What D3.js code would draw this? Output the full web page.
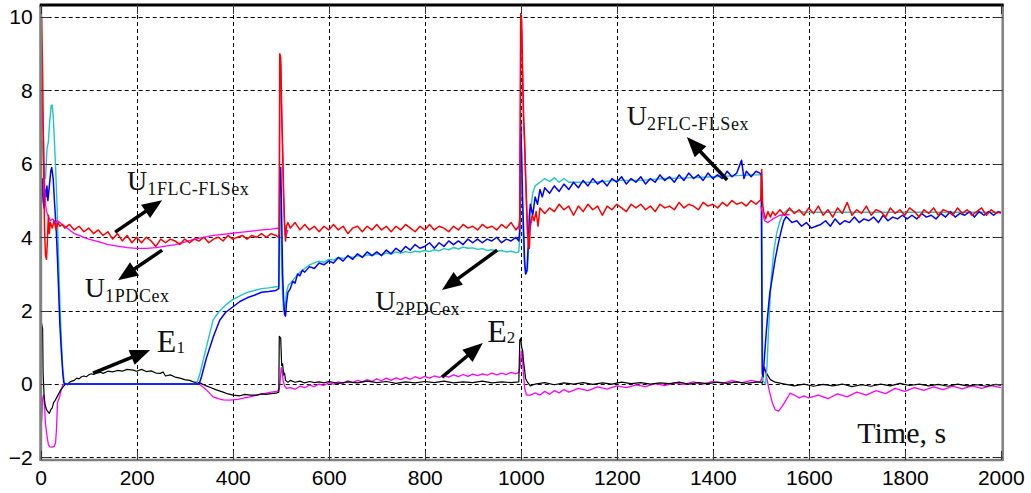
<!doctype html>
<html>
<head>
<meta charset="utf-8">
<style>
  body { margin: 0; background: #fff; }
</style>
</head>
<body>
<svg width="1031" height="493"></svg>
<script src="https://d3js.org/d3.v7.min.js"></script>
<script>
  // ---- data: [time s, value] ----
  const xTicks = [0, 200, 400, 600, 800, 1000, 1200, 1400, 1600, 1800, 2000];
  const yTicks = [-2, 0, 2, 4, 6, 8, 10];

  const u1FlcFls = [ // red
    [0,10.0],[2,10.0],[4,8.5],[6,6.0],[8,4.2],[10,3.5],[12,3.4],[14,3.9],[16,4.6],[18,4.1],[20,4.4],[24,4.25],[28,4.45],[32,4.2],[36,4.4],[40,4.3],[45,4.35],[50,4.25],
    [60,4.35],[70,4.2],[80,4.3],[90,4.15],[100,4.25],[110,4.1],[120,4.2],[130,4.05],[140,4.15],[150,3.95],[160,4.1],[170,3.9],[180,4.05],[190,3.85],[200,4.0],
    [210,3.85],[220,4.0],[230,3.9],[240,3.75],[250,3.95],[260,3.85],[270,3.95],[280,3.9],[290,3.8],[300,3.95],[310,3.85],[320,3.95],[330,3.9],[340,4.0],[350,3.85],
    [360,3.95],[370,4.0],[380,3.9],[390,4.05],[400,3.95],[410,4.0],[420,4.05],[430,3.95],[440,4.05],[450,4.0],[460,4.1],[470,4.0],[480,4.1],[490,4.05],[495,4.0],
    [497,4.1],[498,9.0],[500,8.9],[502,7.5],[504,6.4],[506,5.2],[508,4.4],[510,3.9],[512,4.3],[515,4.4],[520,4.25],[530,4.4],[540,4.2],[550,4.35],[560,4.2],
    [570,4.3],[580,4.15],[590,4.3],[600,4.2],[610,4.35],[620,4.2],[630,4.3],[640,4.1],[650,4.25],[660,4.3],[670,4.15],[680,4.3],[690,4.2],[700,4.35],[710,4.2],
    [720,4.3],[730,4.15],[740,4.3],[750,4.2],[760,4.35],[770,4.25],[780,4.15],[790,4.3],[800,4.2],[810,4.35],[820,4.2],[830,4.3],[840,4.25],[850,4.15],[860,4.3],
    [870,4.2],[880,4.35],[890,4.25],[900,4.3],[910,4.2],[920,4.35],[930,4.25],[940,4.3],[950,4.2],[960,4.35],[970,4.25],[980,4.4],[990,4.2],[996,4.3],[998,4.5],
    [1000,10.1],[1002,9.9],[1004,8.5],[1006,7.3],[1008,6.7],[1010,5.8],[1012,5.0],[1014,4.3],[1016,3.8],[1018,3.7],[1020,4.4],[1024,4.6],[1028,4.45],[1032,4.7],
    [1036,4.3],[1040,4.8],[1050,4.65],[1060,4.8],[1070,4.7],[1080,4.9],[1090,4.75],[1100,4.85],[1110,4.6],[1120,4.85],[1130,4.7],[1140,4.9],[1150,4.75],[1160,4.85],
    [1170,4.6],[1180,4.85],[1190,4.75],[1200,4.9],[1210,4.8],[1220,4.7],[1230,4.9],[1240,4.8],[1250,4.9],[1260,4.75],[1270,4.85],[1280,4.7],[1290,4.9],[1300,4.8],
    [1310,4.85],[1320,4.75],[1330,4.95],[1340,4.8],[1350,4.9],[1360,4.85],[1370,4.75],[1380,4.95],[1390,4.85],[1400,4.9],[1410,4.8],[1420,4.95],[1430,4.85],
    [1440,5.0],[1450,4.9],[1460,4.95],[1470,4.85],[1480,5.0],[1490,4.9],[1498,5.0],[1500,5.0],[1502,5.85],[1504,4.9],[1506,4.7],[1510,4.5],[1515,4.7],[1520,4.55],
    [1525,4.7],[1530,4.6],[1540,4.75],[1550,4.6],[1560,4.8],[1570,4.65],[1580,4.75],[1590,4.6],[1600,4.8],[1610,4.65],[1620,4.85],[1630,4.6],[1640,4.75],[1650,4.55],
    [1660,4.8],[1670,4.65],[1680,4.95],[1690,4.6],[1700,4.75],[1710,4.65],[1720,4.85],[1730,4.6],[1740,4.75],[1750,4.7],[1760,4.55],[1770,4.8],[1780,4.65],
    [1790,4.75],[1800,4.6],[1810,4.8],[1820,4.7],[1830,4.55],[1840,4.75],[1850,4.65],[1860,4.8],[1870,4.6],[1880,4.75],[1890,4.7],[1900,4.6],[1910,4.8],[1920,4.65],
    [1930,4.75],[1940,4.6],[1950,4.7],[1960,4.8],[1970,4.6],[1980,4.75],[1990,4.65],[2000,4.7]
  ];

  const u1Pdc = [ // magenta, upper (hidden under red where null)
    [0,9.6],[2,9.0],[3,8.3],[4,7.1],[6,6.7],[8,5.5],[10,4.9],[12,4.7],[15,4.6],[20,4.45],[25,4.5],[30,4.4],[35,4.45],[40,4.4],[50,4.3],[60,4.2],[70,4.1],
    [80,4.05],[90,4.0],[100,3.95],[120,3.88],[140,3.8],[160,3.76],[180,3.72],[200,3.7],[220,3.7],[240,3.72],[260,3.76],[280,3.8],[300,3.87],[320,3.95],
    [340,4.0],[360,4.05],[380,4.08],[400,4.11],[420,4.14],[440,4.17],[460,4.2],[480,4.22],[495,4.25],[497,4.2],[498,8.8],[500,8.7],[502,7.3],[504,6.3],
    [506,5.1],[508,4.3],[510,4.0],[515,4.2],[520,null],
    [996,4.2],[998,4.4],[1000,9.8],[1002,9.6],[1004,8.3],[1006,7.1],[1008,6.5],[1010,5.6],[1012,4.8],[1014,4.1],[1016,3.9],[1020,4.3],[1024,4.5],[1030,null],
    [1500,4.85],[1503,4.7],[1508,4.45],[1515,4.4],[1525,4.5],[1540,4.6],[1560,4.62],[1565,null]
  ];

  const u2FlcFls = [ // blue
    [0,6.1],[1,5.0],[3,5.6],[5,5.0],[7,4.8],[9,5.3],[11,5.1],[13,5.4],[15,5.0],[18,5.4],[21,5.8],[23,5.9],[26,5.6],[29,4.9],[32,4.3],[35,3.4],[38,2.3],
    [40,1.6],[43,0.9],[46,0.3],[48,0.05],[50,0],[330,0],[335,0.2],[345,0.7],[360,1.3],[373,1.74],[385,1.95],[400,2.1],[415,2.25],[430,2.35],[445,2.42],
    [460,2.5],[475,2.52],[490,2.55],[496,2.6],[498,5.8],[500,5.9],[502,4.5],[504,3.0],[506,2.3],[508,1.9],[510,1.85],[512,2.2],[515,2.5],[520,2.6],[525,2.8],
    [530,2.75],[535,3.0],[540,2.95],[545,3.1],[550,3.05],[560,3.2],[570,3.15],[580,3.3],[590,3.25],[600,3.35],[610,3.3],[620,3.45],[630,3.35],[640,3.5],
    [650,3.4],[660,3.55],[670,3.45],[680,3.6],[690,3.5],[700,3.6],[710,3.5],[720,3.65],[730,3.55],[740,3.7],[750,3.6],[760,3.75],[770,3.65],[780,3.8],
    [790,3.7],[800,3.75],[810,3.85],[820,3.7],[830,3.85],[840,3.75],[850,3.9],[860,3.8],[870,3.9],[880,3.8],[890,3.95],[900,3.85],[910,3.95],[920,3.85],
    [930,3.95],[940,3.9],[950,4.0],[960,3.85],[970,3.95],[980,3.9],[990,4.0],[996,3.9],[998,4.2],[1000,7.1],[1002,6.2],[1004,5.0],[1006,4.2],[1008,3.4],
    [1010,3.0],[1013,3.1],[1016,3.9],[1018,4.6],[1020,4.9],[1025,4.6],[1030,5.1],[1035,4.9],[1040,5.3],[1045,5.1],[1050,5.35],[1060,5.2],[1070,5.4],[1080,5.25],
    [1090,5.45],[1100,5.3],[1110,5.5],[1120,5.35],[1130,5.55],[1140,5.4],[1150,5.6],[1160,5.45],[1170,5.55],[1180,5.4],[1190,5.6],[1200,5.5],[1210,5.65],
    [1220,5.45],[1230,5.6],[1240,5.5],[1250,5.65],[1260,5.45],[1270,5.6],[1280,5.5],[1290,5.7],[1300,5.55],[1310,5.65],[1320,5.5],[1330,5.7],[1340,5.55],
    [1350,5.75],[1360,5.6],[1370,5.7],[1380,5.55],[1390,5.75],[1400,5.6],[1410,5.7],[1420,5.6],[1430,5.8],[1440,5.65],[1450,5.75],[1460,6.1],[1465,5.6],
    [1470,5.8],[1480,5.65],[1490,5.8],[1498,5.75],[1501,5.7],[1503,0.3],[1505,0.2],[1508,0.8],[1512,1.5],[1516,2.1],[1519,2.5],[1524,2.9],[1530,3.4],[1536,3.8],
    [1543,4.2],[1548,4.45],[1553,4.56],[1558,4.5],[1565,4.4],[1575,4.45],[1585,4.3],[1595,4.4],[1605,4.25],[1615,4.3],[1625,4.35],[1635,4.45],[1645,4.3],
    [1655,4.5],[1665,4.35],[1675,4.45],[1685,4.4],[1695,4.55],[1705,4.4],[1715,4.5],[1725,4.45],[1735,4.55],[1745,4.4],[1755,4.6],[1765,4.45],[1775,4.55],
    [1785,4.5],[1795,4.6],[1805,4.5],[1815,4.6],[1825,4.5],[1835,4.65],[1845,4.55],[1855,4.6],[1865,4.5],[1875,4.65],[1885,4.55],[1895,4.7],[1905,4.55],
    [1915,4.65],[1925,4.6],[1935,4.7],[1945,4.55],[1955,4.7],[1965,4.6],[1975,4.7],[1985,4.6],[1995,4.7],[2000,4.65]
  ];

  const u2Pdc = [ // cyan
    [0,7.4],[2,6.8],[4,6.5],[6,6.0],[8,5.6],[10,5.6],[13,6.4],[16,6.6],[19,7.2],[22,7.6],[24,7.6],[26,7.3],[28,6.8],[31,5.9],[34,4.9],[37,3.5],[40,2.2],
    [43,1.2],[46,0.4],[49,0.05],[52,0],[325,0],[332,0.3],[345,1.0],[359,1.74],[370,1.95],[385,2.15],[400,2.3],[415,2.4],[430,2.5],[445,2.55],[460,2.6],
    [475,2.62],[490,2.65],[496,2.65],[498,5.0],[500,4.5],[502,3.2],[504,2.4],[506,2.0],[509,2.1],[512,2.5],[516,2.7],[520,2.75],[530,2.9],[540,3.05],
    [550,3.15],[560,3.25],[570,3.3],[580,3.35],[590,3.32],[600,3.4],[610,3.38],[620,3.45],[630,3.42],[640,3.48],[650,3.45],[660,3.5],[670,3.47],[680,3.52],
    [690,3.5],[700,3.55],[710,3.52],[720,3.57],[730,3.54],[740,3.6],[750,3.56],[760,3.61],[770,3.58],[780,3.62],[790,3.6],[800,3.64],[810,3.61],[820,3.66],
    [830,3.63],[840,3.69],[850,3.66],[860,3.72],[870,3.68],[880,3.73],[890,3.7],[900,3.71],[910,3.67],[920,3.69],[930,3.64],[940,3.66],[950,3.62],[960,3.64],
    [970,3.6],[980,3.62],[990,3.58],[996,3.6],[998,4.0],[1000,6.0],[1002,5.4],[1004,4.5],[1006,3.8],[1008,3.2],[1011,3.0],[1014,3.1],[1017,3.9],[1020,4.7],
    [1025,5.2],[1030,5.4],[1040,5.5],[1050,5.6],[1060,5.52],[1070,5.62],[1080,5.5],[1090,5.6],[1100,5.5],[1150,5.5],[1200,5.55],[1250,5.55],[1300,5.6],
    [1350,5.62],[1400,5.65],[1450,5.68],[1480,5.7],[1502,5.7],[1504,0.1],[1510,0],[1513,0.5],[1516,1.4],[1519,2.2],[1522,2.9],[1527,3.6],[1533,4.1],
    [1540,4.45],[1547,4.65],[1556,4.75],[1570,4.7],[1600,4.68],[1700,4.68],[1800,4.68],[1900,4.68],[2000,4.68]
  ];

  const e1 = [ // black
    [0,1.6],[2,1.65],[4,1.5],[5,0.3],[7,-0.3],[9,-0.55],[12,-0.7],[15,-0.75],[18,-0.8],[21,-0.7],[24,-0.65],[27,-0.5],[30,-0.45],[34,-0.35],[38,-0.25],
    [42,-0.15],[47,-0.07],[52,0.0],[56,-0.02],[60,0.05],[65,0.08],[70,0.1],[75,0.16],[80,0.14],[85,0.2],[90,0.22],[95,0.2],[100,0.25],[105,0.28],[110,0.26],
    [117,0.3],[125,0.32],[130,0.29],[140,0.35],[150,0.33],[160,0.37],[170,0.35],[180,0.4],[193,0.38],[200,0.35],[210,0.4],[220,0.34],[230,0.36],[240,0.3],
    [249,0.29],[255,0.33],[260,0.22],[270,0.25],[280,0.19],[290,0.16],[300,0.12],[310,0.1],[320,0.05],[332,0.03],[345,-0.05],[355,-0.1],[366,-0.16],
    [380,-0.22],[390,-0.27],[401,-0.3],[415,-0.32],[425,-0.28],[436,-0.3],[450,-0.3],[460,-0.27],[470,-0.28],[480,-0.26],[490,-0.25],[496,-0.22],[497,1.3],
    [500,1.25],[502,0.5],[504,0.55],[506,0.25],[508,0.3],[510,0.1],[515,0.05],[520,0.1],[530,0.05],[540,0.08],[550,0.03],[560,0.07],[570,0.04],[580,0.06],
    [590,0.03],[600,0.07],[620,0.02],[640,0.06],[660,0.03],[680,0.08],[700,0.04],[720,0.07],[740,0.02],[760,0.06],[780,0.03],[800,0.07],[820,0.04],[840,0.08],
    [860,0.03],[880,0.06],[900,0.04],[920,0.08],[940,0.03],[960,0.06],[980,0.04],[996,0.06],[998,1.2],[1000,1.25],[1002,1.0],[1004,0.9],[1006,0.6],[1008,0.4],
    [1010,0.15],[1014,0.05],[1020,-0.05],[1030,0.0],[1050,0.04],[1070,-0.02],[1090,0.03],[1110,0.0],[1130,0.04],[1150,-0.01],[1170,0.03],[1190,0.0],[1210,0.05],
    [1230,0.01],[1250,0.04],[1270,0.0],[1290,0.03],[1310,0.01],[1330,0.05],[1350,0.0],[1370,0.04],[1390,0.01],[1410,0.05],[1430,0.02],[1450,0.06],[1470,0.02],
    [1490,0.05],[1500,0.05],[1503,0.02],[1506,0.45],[1510,0.35],[1514,0.25],[1520,0.12],[1530,0.05],[1550,0.0],[1570,-0.05],[1590,0.0],[1610,-0.06],[1630,-0.01],
    [1650,-0.05],[1670,0.0],[1690,-0.07],[1710,-0.02],[1730,-0.06],[1750,0.0],[1770,-0.05],[1790,0.02],[1810,-0.04],[1830,0.0],[1850,-0.05],[1870,-0.01],
    [1890,-0.06],[1910,0.0],[1930,-0.05],[1950,-0.02],[1970,-0.06],[1990,-0.01],[2000,-0.04]
  ];

  const e2 = [ // magenta, lower
    [0,-0.5],[2,-1.0],[4,-0.4],[6,-0.3],[8,-0.6],[10,-1.1],[13,-1.4],[16,-1.65],[19,-1.71],[24,-1.72],[28,-1.7],[31,-1.6],[33,-1.2],[35,-0.5],[38,-0.4],
    [42,-0.2],[47,0],[330,0],[340,-0.1],[350,-0.22],[359,-0.35],[370,-0.4],[380,-0.43],[394,-0.44],[410,-0.42],[425,-0.38],[436,-0.35],[450,-0.3],[465,-0.26],
    [480,-0.22],[492,-0.2],[497,-0.15],[499,0.1],[501,0.45],[503,0.35],[505,0.1],[508,-0.05],[512,-0.12],[520,-0.1],[530,-0.14],[540,-0.06],[550,-0.1],
    [560,-0.03],[570,-0.07],[580,0.0],[590,-0.04],[600,0.04],[610,0.0],[620,0.06],[630,0.02],[640,0.09],[650,0.04],[660,0.1],[670,0.06],[680,0.12],[690,0.07],
    [700,0.14],[710,0.09],[720,0.16],[730,0.1],[740,0.17],[750,0.12],[760,0.18],[770,0.13],[780,0.2],[790,0.15],[800,0.21],[810,0.16],[820,0.22],[830,0.18],
    [840,0.23],[850,0.19],[860,0.25],[870,0.2],[880,0.26],[890,0.21],[900,0.27],[910,0.23],[920,0.28],[930,0.24],[940,0.3],[950,0.25],[960,0.3],[970,0.26],
    [980,0.32],[990,0.28],[996,0.32],[999,0.5],[1001,0.9],[1003,0.8],[1005,0.4],[1008,-0.1],[1012,-0.3],[1020,-0.3],[1030,-0.24],[1040,-0.3],[1050,-0.2],
    [1060,-0.28],[1070,-0.18],[1080,-0.24],[1090,-0.15],[1100,-0.22],[1120,-0.12],[1140,-0.18],[1160,-0.08],[1180,-0.14],[1200,-0.05],[1220,-0.1],[1240,-0.02],
    [1260,-0.07],[1280,0.01],[1300,-0.04],[1320,0.03],[1340,-0.01],[1360,0.06],[1380,0.0],[1400,0.07],[1420,0.02],[1440,0.09],[1460,0.03],[1480,0.1],[1496,0.05],
    [1500,0.08],[1503,0.2],[1508,0.47],[1512,0.2],[1518,-0.2],[1524,-0.5],[1530,-0.7],[1537,-0.74],[1545,-0.6],[1552,-0.45],[1561,-0.25],[1570,-0.3],
    [1580,-0.38],[1590,-0.32],[1600,-0.38],[1620,-0.3],[1640,-0.4],[1660,-0.27],[1680,-0.35],[1700,-0.22],[1720,-0.3],[1740,-0.18],[1760,-0.26],[1780,-0.12],
    [1800,-0.2],[1820,-0.1],[1840,-0.17],[1860,-0.08],[1880,-0.15],[1900,-0.06],[1920,-0.13],[1940,-0.05],[1960,-0.12],[1980,-0.04],[2000,-0.1]
  ];

  // annotations: label text (main, subscript), label anchor, arrow tail, arrow head (data units)
  const labelNames = [["U", "1FLC-FLSex"], ["U", "1PDCex"], ["U", "2PDCex"], ["U", "2FLC-FLSex"], ["E", "1"], ["E", "2"]];
  const labelAt = [[180, 5.29], [92, 2.37], [697, 2.02], [1221, 7.06], [242, 0.87], [930, 1.14]];
  const arrowFrom = [[155, 4.14], [253, 3.65], [951, 3.65], [1430, 5.56], [109, 0.3], [836, 0.19]];
  const arrowTo = [[253, 5.01], [161, 2.83], [836, 2.56], [1346, 6.73], [228, 0.93], [921, 1.12]];

  // ---- drawing ----
  let svg = d3.select("svg");
  let x = d3.scaleLinear().domain([0, 2004]).range([40.7, 1002.7]);
  let y = d3.scaleLinear().domain([-2.07, 10.33]).range([460, 5]);
  let [x0, x1] = x.range(), [y0, y1] = y.range();

  svg.append("rect").attr("width", 1031).attr("height", 493).attr("fill", "#fff");

  // dashed grid
  let grid = svg.append("g").attr("stroke", "#000").attr("stroke-width", 1).attr("stroke-dasharray", "4,3");
  grid.selectAll(".gx").data(xTicks.filter(d => d > 0 && d < 2000)).enter().append("line")
    .attr("x1", d => Math.round(x(d)) + 0.5).attr("x2", d => Math.round(x(d)) + 0.5)
    .attr("y1", y0).attr("y2", y1);
  grid.selectAll(".gy").data(yTicks).enter().append("line")
    .attr("y1", d => Math.round(y(d)) + 0.5).attr("y2", d => Math.round(y(d)) + 0.5)
    .attr("x1", x0).attr("x2", x1);

  // series
  let line = d3.line()
    .defined(d => d[1] !== null)
    .x(d => x(d[0])).y(d => y(d[1]));

  let series = [
    [e2, "#ff00ff", 1.3], [e1, "#000000", 1.2], [u2Pdc, "#22c4c4", 1.4], [u2FlcFls, "#0000ff", 1.5],
    [u1Pdc, "#ff00ff", 1.3], [u1FlcFls, "#ff0000", 1.5]
  ];
  let plot = svg.append("g");
  series.forEach(([data, col, w]) => {
    plot.append("path").datum(data)
      .attr("d", line)
      .attr("fill", "none")
      .attr("stroke", col)
      .attr("stroke-width", w)
      .attr("stroke-linejoin", "round");
  });

  // frame and inner ticks
  let frame = svg.append("g");
  frame.append("line").attr("x1", x0).attr("x2", x0).attr("y1", y1).attr("y2", y0 + 1).attr("stroke", "#808080").attr("stroke-width", 3);
  frame.append("line").attr("x1", x1).attr("x2", x1).attr("y1", y1).attr("y2", y0 + 1).attr("stroke", "#808080").attr("stroke-width", 2.5);
  frame.append("line").attr("x1", x0).attr("x2", x1).attr("y1", y0).attr("y2", y0).attr("stroke", "#808080").attr("stroke-width", 2.5);
  frame.append("line").attr("x1", x0 - 1).attr("x2", x1 + 1).attr("y1", y1).attr("y2", y1).attr("stroke", "#000").attr("stroke-width", 3);

  let ticks = frame.append("g").attr("stroke", "#333").attr("stroke-width", 1);
  yTicks.forEach(v => {
    let yy = Math.round(y(v)) + 0.5;
    ticks.append("line").attr("x1", x0).attr("x2", x0 + 9).attr("y1", yy).attr("y2", yy);
    ticks.append("line").attr("x1", x1 - 9).attr("x2", x1).attr("y1", yy).attr("y2", yy);
  });
  xTicks.forEach(v => {
    let xx = Math.round(x(v)) + 0.5;
    ticks.append("line").attr("x1", xx).attr("x2", xx).attr("y1", y0).attr("y2", y0 - 9);
    ticks.append("line").attr("x1", xx).attr("x2", xx).attr("y1", y1).attr("y2", y1 + 9);
  });

  // tick labels via axes
  let axFont = "'Liberation Sans', Arial, sans-serif";
  let ax = svg.append("g").attr("transform", `translate(0,${y0})`)
    .call(d3.axisBottom(x).tickValues(xTicks).tickSize(0).tickPadding(10).tickFormat(d3.format("d")));
  let ay = svg.append("g").attr("transform", `translate(${x0},0)`)
    .call(d3.axisLeft(y).tickValues(yTicks).tickSize(0).tickPadding(8).tickFormat(d3.format("d")));
  [ax, ay].forEach(a => {
    a.select(".domain").remove();
    a.selectAll("text").attr("font-family", axFont).attr("font-size", 21).attr("fill", "#000");
  });

  // arrows: thick shaft plus a filled triangular head
  let ann = svg.append("g");
  const headLen = 20, headHalf = 8;
  arrowFrom.forEach((f, i) => {
    let t = arrowTo[i];
    let ax0 = x(f[0]), ay0 = y(f[1]), ax1 = x(t[0]), ay1 = y(t[1]);
    let dx = ax1 - ax0, dy = ay1 - ay0, len = Math.hypot(dx, dy);
    let ux = dx / len, uy = dy / len;
    let bx = ax1 - ux * headLen, by = ay1 - uy * headLen;
    ann.append("line")
      .attr("x1", ax0).attr("y1", ay0).attr("x2", bx + ux * 2).attr("y2", by + uy * 2)
      .attr("stroke", "#000").attr("stroke-width", 3.5);
    ann.append("path")
      .attr("d", `M${ax1},${ay1} L${bx - uy * headHalf},${by + ux * headHalf} L${bx + uy * headHalf},${by - ux * headHalf} Z`)
      .attr("fill", "#000");
  });

  let serif = "'Liberation Serif', 'Times New Roman', serif";
  labelNames.forEach((nm, i) => {
    let isE = nm[0] === "E";
    let tx = ann.append("text")
      .attr("x", x(labelAt[i][0])).attr("y", y(labelAt[i][1]))
      .attr("font-family", serif).attr("fill", "#111");
    tx.append("tspan").attr("font-size", isE ? 32 : 28).text(nm[0]);
    tx.append("tspan").attr("font-size", isE ? 17 : 18).attr("dy", isE ? 1 : 5)
      .attr("letter-spacing", isE ? 0 : 0.6).text(nm[1]);
  });

  svg.append("text")
    .attr("x", x(1701)).attr("y", y(-1.61))
    .attr("font-family", serif).attr("font-size", 30).attr("fill", "#111")
    .text("Time, s");
</script>
</body>
</html>
